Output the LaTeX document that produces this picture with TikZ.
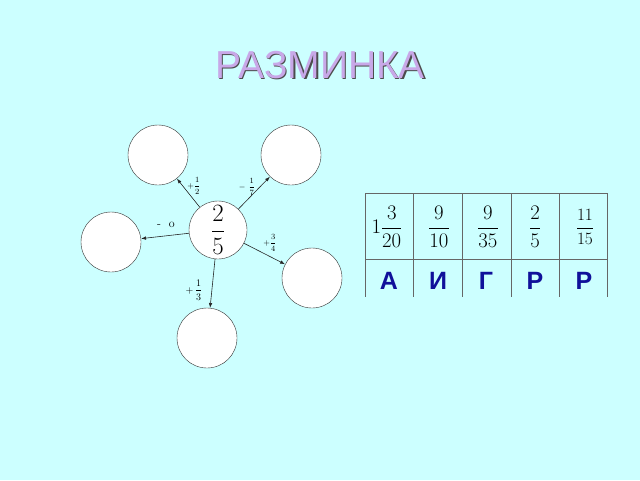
\documentclass[tikz,border=0pt]{standalone}
\usepackage{fontspec}
\setsansfont{Liberation Sans}
\usetikzlibrary{arrows.meta}
\definecolor{bg}{HTML}{CCFFFF}
\definecolor{ttl}{HTML}{C8A8E8}
\definecolor{lett}{HTML}{10109A}
\begin{document}
\begin{tikzpicture}[x=1pt,y=-1pt,
  circ/.style={circle,draw=black!80,fill=white,minimum size=60pt,inner sep=0pt},
  conn/.style={-{Latex[length=5pt,width=3.5pt]},black!85,line width=0.6pt},
  lbl/.style={font=\fontsize{8}{9}\selectfont,inner sep=0pt},
  frac/.style={font=\fontsize{20}{22}\selectfont},
  let/.style={font=\sffamily\bfseries\fontsize{25}{26}\selectfont,text=lett}]
\useasboundingbox[fill=bg] (0,0) rectangle (640,480);
\node[font=\sffamily\fontsize{39}{39}\selectfont,text=black!70] at (321.5,66.5) {РАЗМИНКА};
\node (title) [font=\sffamily\fontsize{39}{39}\selectfont,text=ttl] at (320,65) {РАЗМИНКА};
\node (c) [circ,minimum size=58pt,font=\fontsize{26}{28}\selectfont] at (218,230) {$\displaystyle\frac{2}{5}$};
\node (tl) [circ] at (158,155) {};
\node (tr) [circ] at (291,155) {};
\node (l) [circ] at (111,242) {};
\node (r) [circ] at (312,278) {};
\node (b) [circ] at (207,338) {};
\draw[conn] (c) -- (tl);
\draw[conn] (c) -- (tr);
\draw[conn] (c) -- (l);
\draw[conn] (c) -- (r);
\draw[conn] (c) -- (b);
\node (la) [lbl] at (194,186) {$+\displaystyle\frac{1}{2}$};
\node (lb) [lbl] at (247,187) {$-\ \displaystyle\frac{1}{7}$};
\node (lc) [lbl,font=\fontsize{12}{12}\selectfont] at (166,225) {-\ \ o};
\node (ld) [lbl] at (270,243) {$+\displaystyle\frac{3}{4}$};
\node (le) [lbl,font=\fontsize{10}{12}\selectfont] at (194,290) {$+\,\displaystyle\frac{1}{3}$};
% table
\draw[black!60,line width=0.6pt] (365,193) -- (607,193) (365,259) -- (607,259);
\foreach \x in {365,413,462,511,559,607} \draw[black!60,line width=0.6pt] (\x,193) -- (\x,297);
\node (f1) [frac] at (387,227) {$1\displaystyle\frac{3}{20}$};
\node (f2) [frac] at (439,227) {$\displaystyle\frac{9}{10}$};
\node (f3) [frac] at (488,227) {$\displaystyle\frac{9}{35}$};
\node (f4) [frac] at (535,227) {$\displaystyle\frac{2}{5}$};
\node (f5) [frac,font=\fontsize{17}{18}\selectfont] at (585,227) {$\displaystyle\frac{11}{15}$};
\node (a1) [let] at (389,281) {А};
\node (a2) [let] at (438,281) {И};
\node (a3) [let] at (486,281) {Г};
\node (a4) [let] at (535,281) {Р};
\node (a5) [let] at (584,281) {Р};
\end{tikzpicture}
\end{document}
